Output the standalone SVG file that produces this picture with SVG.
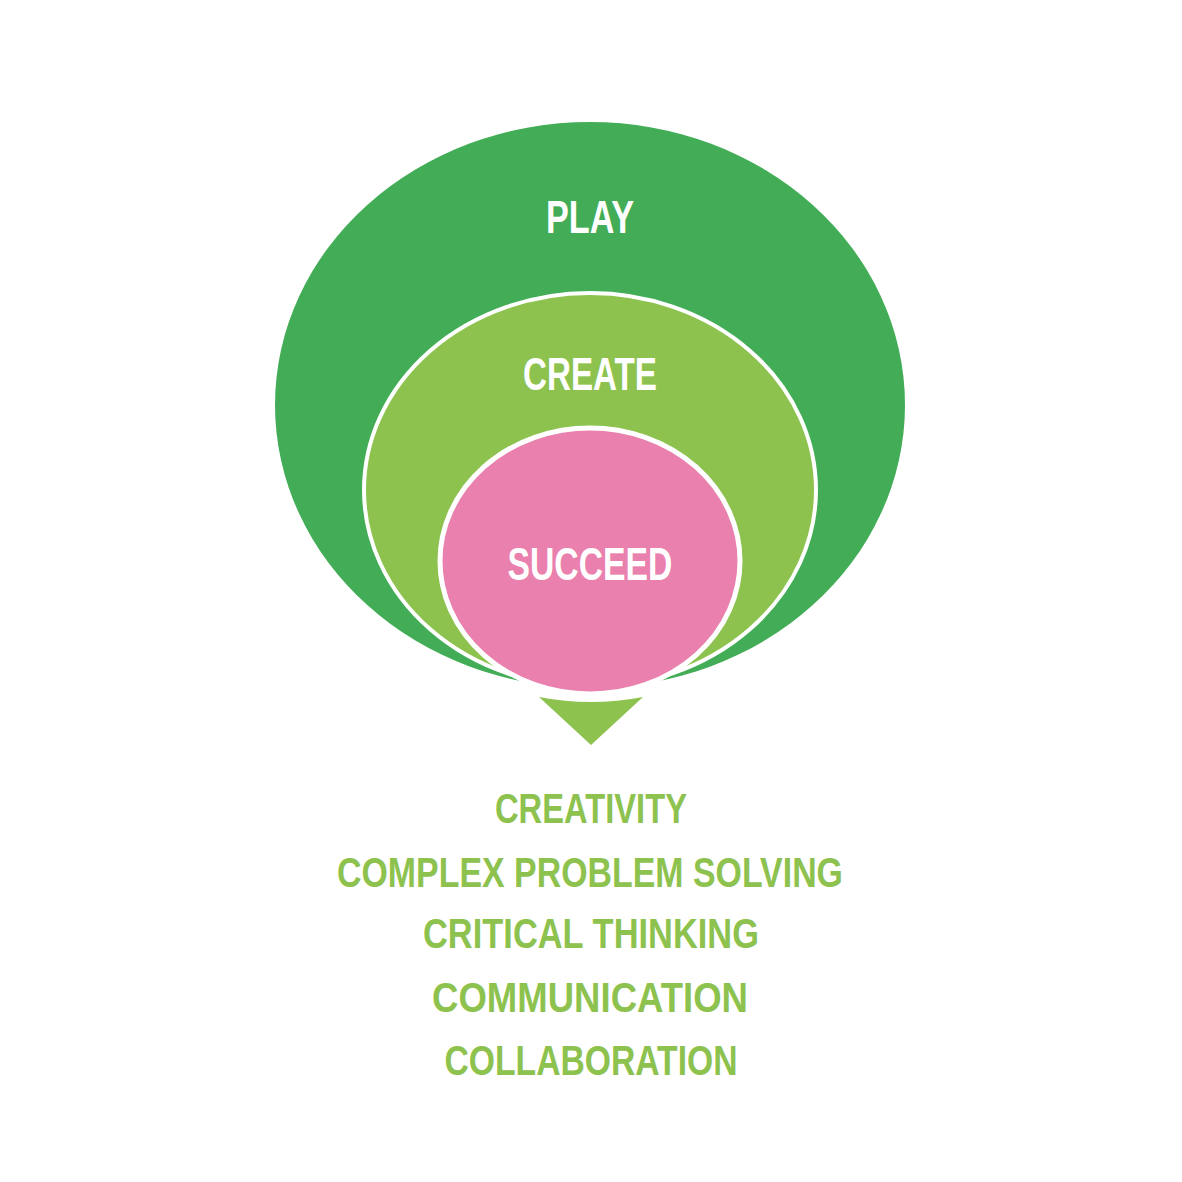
<svg xmlns="http://www.w3.org/2000/svg" width="1182" height="1182" viewBox="0 0 1182 1182">
<style>
.lbl{font-family:"Liberation Sans","DejaVu Sans",sans-serif;font-weight:bold;text-anchor:middle}
.in{fill:#ffffff;font-size:46px}
.out{fill:#8DC24F;font-size:42px}
</style>
<rect width="1182" height="1182" fill="#ffffff"/>
<g id="play">
<ellipse cx="590" cy="405" rx="315" ry="283" fill="#42AD56"/>
<text class="lbl in" x="590" y="233" textLength="88" lengthAdjust="spacingAndGlyphs">PLAY</text>
</g>
<g id="create">
<ellipse cx="590" cy="490" rx="226" ry="197" fill="#8DC24F" stroke="#ffffff" stroke-width="4"/>
<text class="lbl in" x="590" y="390" textLength="134" lengthAdjust="spacingAndGlyphs">CREATE</text>
</g>
<g id="connectors">
<path d="M539,697 Q591,707 643,697 L591,745 Z" fill="#8DC24F"/>
</g>
<g id="succeed">
<ellipse cx="590" cy="561" rx="150" ry="133" fill="#EA80AD" stroke="#ffffff" stroke-width="5"/>
<text class="lbl in" x="590" y="580" textLength="165" lengthAdjust="spacingAndGlyphs">SUCCEED</text>
</g>
<g id="skills">
<text class="lbl out" x="591" y="823" textLength="192" lengthAdjust="spacingAndGlyphs">CREATIVITY</text>
<text class="lbl out" x="590" y="887" textLength="506" lengthAdjust="spacingAndGlyphs">COMPLEX PROBLEM SOLVING</text>
<text class="lbl out" x="591" y="948" textLength="336" lengthAdjust="spacingAndGlyphs">CRITICAL THINKING</text>
<text class="lbl out" x="590" y="1012" textLength="316" lengthAdjust="spacingAndGlyphs">COMMUNICATION</text>
<text class="lbl out" x="591" y="1075" textLength="293" lengthAdjust="spacingAndGlyphs">COLLABORATION</text>
</g>
</svg>
